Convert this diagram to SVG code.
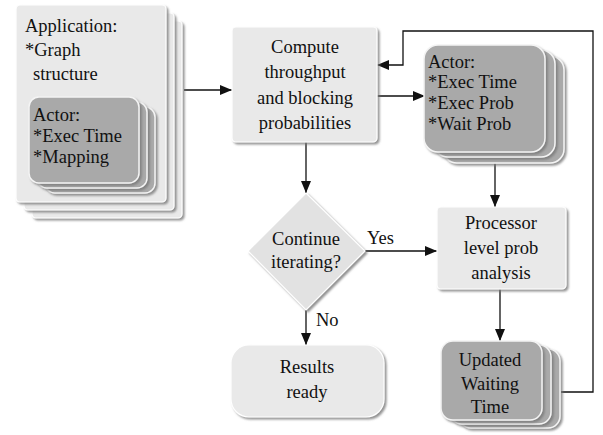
<svg xmlns="http://www.w3.org/2000/svg" width="603" height="435" viewBox="0 0 603 435" font-family="'Liberation Serif', 'Times New Roman', serif">
<defs>
<style>
text{font-family:'Liberation Serif','Times New Roman',serif;font-size:18.5px;fill:#111}
.c{text-anchor:middle}
.light{fill:#e9e9e9;stroke:#ffffff;stroke-width:1.2}
.dark{fill:#a9a9a9;stroke:#f4f4f4;stroke-width:1.5}
.edge{fill:none;stroke:#111;stroke-width:1.3}
</style>
<filter id="sh" x="-10%" y="-10%" width="130%" height="130%">
<feDropShadow dx="2" dy="2" stdDeviation="1.2" flood-color="#777" flood-opacity="0.8"/>
</filter>
<marker id="ah" viewBox="0 0 12 10" refX="12" refY="5" markerWidth="12" markerHeight="10" markerUnits="userSpaceOnUse" orient="auto">
<path d="M0,0 L12,5 L0,10 Z" fill="#111"/>
</marker>
</defs>
<rect width="603" height="435" fill="#fff"/>

<g id="edges">
<line class="edge" x1="184" y1="90" x2="232" y2="90" marker-end="url(#ah)"/>
<line class="edge" x1="306" y1="142" x2="306" y2="193" marker-end="url(#ah)"/>
<line class="edge" x1="377" y1="96" x2="425" y2="96" marker-end="url(#ah)"/>
<line class="edge" x1="495" y1="163" x2="495" y2="207" marker-end="url(#ah)"/>
<line class="edge" x1="365" y1="251" x2="437" y2="251" marker-end="url(#ah)"/>
<line class="edge" x1="306" y1="310" x2="306" y2="345" marker-end="url(#ah)"/>
<line class="edge" x1="500" y1="289" x2="500" y2="341" marker-end="url(#ah)"/>
<polyline class="edge" points="561,392 593,392 593,31 403,31 403,65 377,65" marker-end="url(#ah)"/>
<text x="367" y="244">Yes</text>
<text x="316" y="326">No</text>
</g>

<g id="application">
<rect class="light" x="32" y="21" width="150" height="197" rx="4" filter="url(#sh)"/>
<rect class="light" x="24" y="13" width="150" height="197" rx="4" filter="url(#sh)"/>
<rect class="light" x="16" y="5" width="150" height="197" rx="4" filter="url(#sh)"/>
<text x="25" y="32">Application:</text>
<text x="25" y="56">*Graph</text>
<text x="33" y="80">structure</text>
<g id="actor-left">
<rect class="dark" x="45" y="107" width="110" height="86" rx="10" filter="url(#sh)"/>
<rect class="dark" x="37" y="102" width="110" height="86" rx="10" filter="url(#sh)"/>
<rect class="dark" x="29" y="97" width="110" height="86" rx="10" filter="url(#sh)"/>
<text x="33" y="121">Actor:</text>
<text x="33" y="142">*Exec Time</text>
<text x="33" y="163">*Mapping</text>
</g>
</g>

<g id="compute">
<rect class="light" x="232" y="27" width="145" height="115" rx="4" filter="url(#sh)"/>
<text class="c" x="305" y="53">Compute</text>
<text class="c" x="305" y="78">throughput</text>
<text class="c" x="305" y="104">and blocking</text>
<text class="c" x="305" y="129">probabilities</text>
</g>

<g id="actor-right">
<rect class="dark" x="443" y="56" width="121" height="107" rx="14" filter="url(#sh)"/>
<rect class="dark" x="434" y="50" width="121" height="107" rx="14" filter="url(#sh)"/>
<rect class="dark" x="424" y="45" width="121" height="107" rx="14" filter="url(#sh)"/>
<text x="428" y="68">Actor:</text>
<text x="428" y="88">*Exec Time</text>
<text x="428" y="109">*Exec Prob</text>
<text x="428" y="130">*Wait Prob</text>
</g>

<g id="decision">
<polygon points="306,193 365,251 306,310 248,251" fill="#e2e2e2" stroke="#fff" stroke-width="1.2" filter="url(#sh)"/>
<text class="c" x="306" y="245">Continue</text>
<text class="c" x="306" y="268">iterating?</text>
</g>

<g id="processor">
<rect class="light" x="437" y="207" width="129" height="82" rx="4" filter="url(#sh)"/>
<text class="c" x="501" y="229">Processor</text>
<text class="c" x="501" y="254">level prob</text>
<text class="c" x="501" y="279">analysis</text>
</g>

<g id="results">
<rect class="light" x="231" y="345" width="153" height="72" rx="18" filter="url(#sh)"/>
<text class="c" x="307" y="373">Results</text>
<text class="c" x="307" y="398">ready</text>
</g>

<g id="updated">
<rect class="dark" x="459" y="349" width="101" height="79" rx="12" filter="url(#sh)"/>
<rect class="dark" x="450" y="345" width="101" height="79" rx="12" filter="url(#sh)"/>
<rect class="dark" x="441" y="341" width="101" height="79" rx="12" filter="url(#sh)"/>
<text class="c" x="490" y="366">Updated</text>
<text class="c" x="490" y="390">Waiting</text>
<text class="c" x="490" y="413">Time</text>
</g>
</svg>
